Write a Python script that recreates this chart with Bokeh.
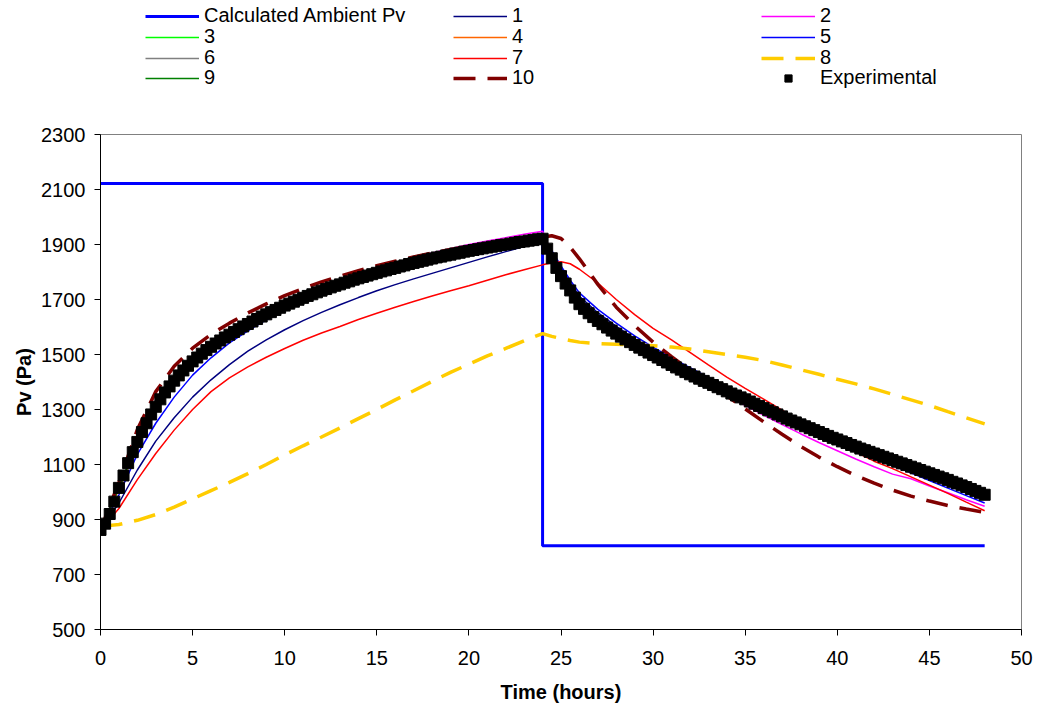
from bokeh.plotting import figure
from bokeh.layouts import column
from bokeh.models import Range1d, FixedTicker, Legend, LegendItem
from bokeh.embed import file_html
from bokeh.resources import INLINE

# ---------------- data ----------------
ambient_t = [0, 24, 24, 48]
ambient_pv = [2122, 2122, 805, 805]

t_model = [0, 1, 2, 3, 4, 5, 6, 7, 8, 9, 10, 11, 12, 13, 14, 15, 16, 17, 18, 19, 20,
           21, 22, 23, 24, 24.5, 25, 25.5, 26, 27, 28, 29, 30, 31, 32, 33, 34, 35, 36,
           37, 38, 39, 40, 41, 42, 43, 44, 45, 46, 47, 48]

s1 = [862, 960, 1080, 1185, 1270, 1345, 1408, 1463, 1512, 1553, 1590, 1623, 1653, 1681,
      1707, 1732, 1754, 1775, 1795, 1815, 1835, 1855, 1874, 1893, 1912,
      1872, 1815, 1760, 1712, 1652, 1602, 1557, 1516, 1478, 1442, 1408, 1375, 1343, 1310,
      1280, 1250, 1221, 1193, 1166, 1140, 1115, 1090, 1066, 1042, 1018, 993]
s2 = [862, 1015, 1182, 1310, 1405, 1475, 1530, 1578, 1620, 1657, 1690, 1720, 1747, 1772,
      1795, 1815, 1834, 1852, 1869, 1885, 1900, 1913, 1925, 1937, 1948,
      1868, 1792, 1738, 1688, 1625, 1575, 1532, 1492, 1455, 1420, 1386, 1350, 1315, 1280,
      1245, 1212, 1180, 1150, 1120, 1092, 1065, 1048, 1022, 997, 972, 948]
s3 = [862, 1013, 1180, 1309, 1404, 1474, 1527, 1571, 1610, 1645, 1677, 1705, 1731, 1754,
      1776, 1796, 1814, 1832, 1848, 1862, 1876, 1888, 1899, 1910, 1920,
      1851, 1786, 1734, 1684, 1623, 1577, 1536, 1499, 1463, 1429, 1398, 1367, 1338, 1306,
      1276, 1247, 1219, 1192, 1166, 1141, 1117, 1093, 1069, 1045, 1019, 991]
s4 = [862, 1010, 1176, 1305, 1401, 1472, 1526, 1570, 1609, 1644, 1676, 1704, 1730, 1753,
      1775, 1795, 1813, 1831, 1847, 1861, 1875, 1887, 1898, 1909, 1919,
      1848, 1780, 1730, 1681, 1621, 1575, 1534, 1497, 1461, 1427, 1396, 1365, 1336, 1304,
      1274, 1245, 1217, 1190, 1164, 1139, 1115, 1091, 1067, 1043, 1017, 989]
s5 = [862, 990, 1137, 1250, 1345, 1425, 1488, 1542, 1586, 1626, 1660, 1690, 1717, 1740,
      1762, 1782, 1800, 1818, 1834, 1850, 1864, 1877, 1890, 1902, 1915,
      1878, 1822, 1770, 1724, 1664, 1614, 1568, 1527, 1488, 1452, 1417, 1382, 1348, 1314,
      1281, 1248, 1215, 1183, 1153, 1124, 1097, 1070, 1042, 1014, 987, 960]
s6 = [862, 1014, 1181, 1310, 1405, 1475, 1528, 1572, 1611, 1646, 1678, 1706, 1732, 1755,
      1777, 1797, 1815, 1833, 1849, 1863, 1877, 1889, 1900, 1911, 1921,
      1850, 1785, 1733, 1683, 1622, 1576, 1535, 1498, 1462, 1428, 1397, 1366, 1337, 1305,
      1275, 1246, 1218, 1191, 1165, 1140, 1116, 1092, 1068, 1044, 1018, 990]
s7 = [862, 940, 1045, 1140, 1225, 1300, 1365, 1415, 1455, 1490, 1522, 1552, 1578, 1602,
      1627, 1650, 1672, 1693, 1713, 1732, 1750, 1770, 1790, 1808, 1826,
      1834, 1837, 1830, 1810, 1760, 1700, 1645, 1595, 1553, 1508, 1462, 1418, 1377, 1338,
      1298, 1255, 1216, 1180, 1145, 1112, 1085, 1055, 1025, 995, 963, 932]
s8 = [875, 882, 897, 918, 945, 975, 1005, 1035, 1067, 1100, 1135, 1168, 1200, 1233,
      1267, 1300, 1335, 1368, 1402, 1435, 1465, 1495, 1522, 1550, 1576,
      1566, 1558, 1551, 1545, 1540, 1537, 1535, 1532, 1527, 1520, 1510, 1500, 1490, 1478,
      1462, 1445, 1428, 1410, 1393, 1375, 1355, 1335, 1315, 1292, 1270, 1248]
s9 = [862, 1015, 1182, 1311, 1406, 1476, 1529, 1573, 1612, 1647, 1679, 1707, 1733, 1756,
      1778, 1798, 1816, 1834, 1850, 1864, 1878, 1890, 1901, 1912, 1922,
      1852, 1787, 1735, 1685, 1624, 1578, 1537, 1500, 1464, 1430, 1399, 1368, 1339, 1307,
      1277, 1248, 1220, 1193, 1167, 1142, 1118, 1094, 1070, 1046, 1020, 992]
s10 = [862, 1035, 1227, 1365, 1457, 1523, 1573, 1614, 1651, 1684, 1714, 1740, 1764, 1785,
       1805, 1823, 1839, 1855, 1869, 1882, 1893, 1903, 1912, 1920, 1927,
       1932, 1922, 1890, 1848, 1755, 1672, 1605, 1545, 1492, 1443, 1395, 1350, 1302, 1255,
       1210, 1166, 1127, 1092, 1060, 1032, 1007, 985, 967, 951, 938, 926]

# experimental readings every quarter hour, 0 h .. 48 h
exp_t = [i / 4 for i in range(193)]
exp_pv = [862, 885, 920, 965, 1015, 1060, 1105, 1145, 1182, 1218, 1250, 1282, 1310,
          1337, 1362, 1384, 1405, 1424, 1442, 1459, 1475, 1489, 1503, 1516, 1528, 1540,
          1551, 1562, 1572, 1582, 1592, 1602, 1611, 1620, 1629, 1638, 1646, 1654, 1662,
          1670, 1678, 1685, 1692, 1699, 1706, 1713, 1719, 1726, 1732, 1738, 1744, 1750,
          1755, 1761, 1766, 1772, 1777, 1782, 1787, 1792, 1797, 1802, 1806, 1811, 1815,
          1820, 1824, 1829, 1833, 1837, 1841, 1845, 1849, 1853, 1856, 1860, 1863, 1867,
          1870, 1874, 1877, 1880, 1883, 1886, 1889, 1892, 1895, 1898, 1900, 1903, 1906,
          1909, 1911, 1914, 1916, 1919, 1921,
          1885, 1850, 1815, 1785, 1758, 1733, 1707, 1683, 1666, 1650, 1636, 1622, 1610,
          1598, 1587, 1576, 1565, 1555, 1545, 1535, 1525, 1516, 1507, 1498, 1489, 1480,
          1471, 1462, 1453, 1445, 1436, 1428, 1420, 1412, 1404, 1397, 1389, 1381, 1374,
          1366, 1358, 1351, 1344, 1337, 1329, 1321, 1313, 1305, 1297, 1290, 1282, 1275,
          1267, 1260, 1253, 1246, 1239, 1232, 1225, 1218, 1211, 1204, 1197, 1191, 1184,
          1178, 1171, 1165, 1158, 1152, 1146, 1140, 1134, 1128, 1122, 1116, 1110, 1104,
          1098, 1092, 1086, 1080, 1074, 1068, 1062, 1056, 1050, 1044, 1037, 1031, 1024,
          1018, 1011, 1004, 997, 990]

x_ticks = [0, 5, 10, 15, 20, 25, 30, 35, 40, 45, 50]
y_ticks = [500, 700, 900, 1100, 1300, 1500, 1700, 1900, 2100, 2300]

legend_rows = [["Calculated Ambient Pv", "1", "2"],
               ["3", "4", "5"],
               ["6", "7", "8"],
               ["9", "10", "Experimental"]]

FONT = "Liberation Sans"
LEG_H = 100
THIN = 1.5

styles = {
    "Calculated Ambient Pv": ("#0000FF", 3, "solid"),
    "1": ("#000080", THIN, "solid"),
    "2": ("#FF00FF", THIN, "solid"),
    "3": ("#00FF00", THIN, "solid"),
    "4": ("#FF6600", THIN, "solid"),
    "5": ("#0000FF", THIN, "solid"),
    "6": ("#808080", THIN, "solid"),
    "7": ("#FF0000", THIN, "solid"),
    "8": ("#FFCC00", 3.5, "22 12"),
    "9": ("#008000", THIN, "solid"),
    "10": ("#800000", 3.5, "22 12"),
}
model_series = [("1", s1), ("2", s2), ("3", s3), ("4", s4), ("5", s5), ("6", s6),
                ("7", s7), ("8", s8), ("9", s9), ("10", s10)]

# ---------------- main figure ----------------
p = figure(width=1039, height=709 - LEG_H, output_backend="svg", toolbar_location=None,
           x_range=Range1d(0, 50), y_range=Range1d(500, 2300),
           min_border_left=100, min_border_right=18, min_border_top=134 - LEG_H,
           min_border_bottom=80)
p.background_fill_color = "white"
p.border_fill_color = "white"
p.xgrid.visible = False
p.ygrid.visible = False
p.outline_line_color = "#808080"
p.outline_line_width = 1

for ax in (p.xaxis[0], p.yaxis[0]):
    ax.axis_line_color = "black"
    ax.axis_line_width = 1
    ax.major_tick_line_color = "black"
    ax.major_tick_out = 6
    ax.major_tick_in = 0
    ax.minor_tick_line_color = None
    ax.major_label_text_font = FONT
    ax.major_label_text_font_size = "20px"
    ax.major_label_text_color = "black"
    ax.axis_label_text_font = FONT
    ax.axis_label_text_font_size = "20px"
    ax.axis_label_text_font_style = "bold"
    ax.axis_label_text_color = "black"

p.xaxis.ticker = FixedTicker(ticks=x_ticks)
p.yaxis.ticker = FixedTicker(ticks=y_ticks)
p.xaxis.axis_label = "Time (hours)"
p.yaxis.axis_label = "Pv (Pa)"
p.xaxis.major_label_standoff = 15
p.xaxis.axis_label_standoff = 13
p.yaxis.major_label_standoff = 9
p.yaxis.axis_label_standoff = 3


def draw_all(fig):
    """Draw every series on fig; returns name -> renderer."""
    out = {}
    c, w, d = styles["Calculated Ambient Pv"]
    out["Calculated Ambient Pv"] = fig.line(ambient_t, ambient_pv, line_color=c,
                                            line_width=w, line_dash=d)
    for name, ys in model_series:
        c, w, d = styles[name]
        out[name] = fig.line(t_model, ys, line_color=c, line_width=w, line_dash=d)
    out["Experimental"] = fig.scatter(exp_t, exp_pv, marker="square", size=11,
                                      fill_color="black", line_color="black")
    return out


draw_all(p)

# ---------------- legend strip ----------------
# The legend sits in its own strip above the plot; its keys reuse the same series,
# whose data fall outside this strip's ranges so only the keys are shown.
lf = figure(width=1039, height=LEG_H, output_backend="svg", toolbar_location=None,
            x_range=Range1d(-2, -1), y_range=Range1d(-2, -1),
            x_axis_location=None, y_axis_location=None, min_border=0)
lf.xgrid.visible = False
lf.ygrid.visible = False
lf.outline_line_color = None
lf.background_fill_color = "white"
lf.border_fill_color = "white"
keys = draw_all(lf)

row_bottoms = [73, 52, 31, 11]
for vy, names in zip(row_bottoms, legend_rows):
    lg = Legend(items=[LegendItem(label=n, renderers=[keys[n]]) for n in names],
                location=(45, vy), orientation="horizontal",
                glyph_width=54, glyph_height=18, label_height=18, label_width=249,
                label_standoff=5, spacing=0, padding=0, margin=0,
                border_line_color=None, background_fill_alpha=0,
                label_text_font=FONT, label_text_font_size="20px",
                label_text_color="black")
    lf.add_layout(lg, "center")

layout = column(lf, p, spacing=0)

with open("out.html", "w") as f:
    f.write(file_html(layout, INLINE))
